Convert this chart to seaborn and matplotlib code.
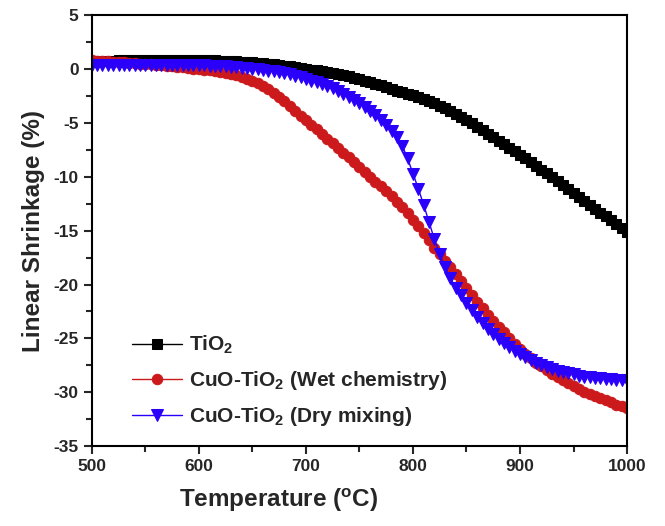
import numpy as np
import pandas as pd
import seaborn as sns
import matplotlib
matplotlib.use("Agg")
import matplotlib.pyplot as plt
from matplotlib.ticker import MultipleLocator

# Temperatures (°C), one reading every 5 °C
temperature = list(range(500, 1001, 5))

# Linear shrinkage (%)
tio2 = [0.75, 0.76, 0.77, 0.78, 0.79, 0.80, 0.81, 0.82, 0.83, 0.84,
        0.85, 0.86, 0.86, 0.87, 0.87, 0.87, 0.87, 0.87, 0.86, 0.86,
        0.85, 0.84, 0.83, 0.81, 0.79, 0.77, 0.75, 0.72, 0.69, 0.66,
        0.62, 0.58, 0.54, 0.49, 0.44, 0.38, 0.32, 0.25, 0.18, 0.11,
        0.04, -0.04, -0.12, -0.20, -0.28, -0.37, -0.46, -0.56, -0.67, -0.79,
        -0.92, -1.06, -1.20, -1.35, -1.50, -1.66, -1.82, -1.99, -2.15, -2.30,
        -2.45, -2.62, -2.80, -2.98, -3.18, -3.40, -3.63, -3.87, -4.13, -4.41,
        -4.71, -5.03, -5.36, -5.68, -6.00, -6.32, -6.64, -6.96, -7.28, -7.60,
        -7.93, -8.27, -8.62, -8.97, -9.33, -9.69, -10.05, -10.41, -10.77, -11.13,
        -11.50, -11.87, -12.24, -12.60, -12.96, -13.32, -13.68, -14.03, -14.38, -14.73,
        -15.08]

wet = [0.80, 0.78, 0.75, 0.72, 0.70, 0.66, 0.62, 0.58, 0.55, 0.51,
       0.47, 0.44, 0.40, 0.35, 0.30, 0.25, 0.20, 0.15, 0.10, 0.05,
       0.00, -0.06, -0.12, -0.18, -0.25, -0.35, -0.46, -0.58, -0.72, -0.90,
       -1.10, -1.33, -1.58, -1.87, -2.20, -2.60, -3.00, -3.45, -3.90, -4.35,
       -4.75, -5.20, -5.60, -6.05, -6.45, -6.90, -7.30, -7.75, -8.20, -8.65,
       -9.10, -9.55, -10.00, -10.45, -10.90, -11.35, -11.80, -12.30, -12.85, -13.40,
       -14.00, -14.60, -15.25, -15.90, -16.60, -17.20, -17.80, -18.40, -19.00, -19.65,
       -20.30, -20.95, -21.60, -22.20, -22.80, -23.35, -23.90, -24.45, -24.95, -25.50,
       -26.00, -26.45, -26.85, -27.25, -27.60, -27.95, -28.30, -28.60, -28.90, -29.15,
       -29.45, -29.70, -29.95, -30.15, -30.35, -30.55, -30.75, -30.95, -31.15, -31.30,
       -31.45]

dry = [0.40, 0.40, 0.40, 0.40, 0.40, 0.40, 0.40, 0.40, 0.40, 0.40,
       0.40, 0.40, 0.40, 0.40, 0.39, 0.39, 0.38, 0.38, 0.37, 0.36,
       0.35, 0.34, 0.32, 0.30, 0.28, 0.25, 0.22, 0.18, 0.14, 0.09,
       0.04, -0.02, -0.08, -0.15, -0.22, -0.30, -0.40, -0.50, -0.62, -0.75,
       -0.90, -1.06, -1.23, -1.41, -1.60, -1.80, -2.03, -2.28, -2.55, -2.84,
       -3.15, -3.49, -3.86, -4.26, -4.70, -5.18, -5.72, -6.35, -7.10, -8.30,
       -9.70, -11.10, -12.60, -14.20, -15.80, -17.20, -18.40, -19.40, -20.30, -21.00,
       -21.70, -22.35, -23.00, -23.55, -24.10, -24.60, -25.05, -25.45, -25.80, -26.15,
       -26.45, -26.75, -27.00, -27.25, -27.45, -27.65, -27.85, -28.00, -28.15, -28.25,
       -28.35, -28.45, -28.55, -28.60, -28.65, -28.70, -28.75, -28.80, -28.85, -28.90,
       -28.90]

sns.set_theme(style="ticks")
plt.rcParams["font.family"] = ["Liberation Sans", "DejaVu Sans"]
plt.rcParams["font.weight"] = "bold"
plt.rcParams["mathtext.fontset"] = "custom"
plt.rcParams["mathtext.rm"] = "Liberation Sans:bold"
plt.rcParams["mathtext.default"] = "rm"
plt.rcParams["axes.unicode_minus"] = False

fig = plt.figure(figsize=(6.65, 5.26), dpi=100)
ax = fig.add_axes([0.138, 0.152, 0.805, 0.819])

series = [
    (tio2, "TiO$_2$", "black", "s", 6.5),
    (wet, "CuO-TiO$_2$ (Wet chemistry)", "#cc1a1c", "o", 7.5),
    (dry, "CuO-TiO$_2$ (Dry mixing)", "#2a00fa", "v", 8.5),
]
for vals, label, col, mk, ms in series:
    df = pd.DataFrame({"T": temperature, "S": vals})
    sns.lineplot(data=df, x="T", y="S", ax=ax, color=col, marker=mk,
                 markersize=ms, markeredgecolor=col, linewidth=1.0,
                 label=label)

ax.set_xlim(500, 1000)
ax.set_ylim(-35, 5)
ax.xaxis.set_major_locator(MultipleLocator(100))
ax.xaxis.set_minor_locator(MultipleLocator(50))
ax.yaxis.set_major_locator(MultipleLocator(5))
ax.yaxis.set_minor_locator(MultipleLocator(2.5))
ax.tick_params(which="major", direction="out", length=6, width=1.5,
               labelsize=12.5, top=False, right=False)
ax.tick_params(which="minor", direction="out", length=4, width=1.5,
               top=False, right=False)
for lab in ax.get_xticklabels() + ax.get_yticklabels():
    lab.set_fontweight("bold")
for sp in ax.spines.values():
    sp.set_linewidth(1.5)
    sp.set_color("black")

ax.set_xlabel("Temperature ($^{\\mathrm{o}}$C)", fontsize=17.5,
              fontweight="bold", labelpad=10)
ax.xaxis.set_label_coords(0.35, -0.095)
ax.set_ylabel("Linear Shrinkage (%)", fontsize=17.5, fontweight="bold",
              labelpad=6)

leg = ax.legend(loc="lower left", bbox_to_anchor=(0.04, -0.002), frameon=False,
                fontsize=15, handlelength=2.4, labelspacing=0.62,
                handletextpad=0.35)
for t in leg.get_texts():
    t.set_fontweight("bold")

fig.savefig("out.png", dpi=100)
